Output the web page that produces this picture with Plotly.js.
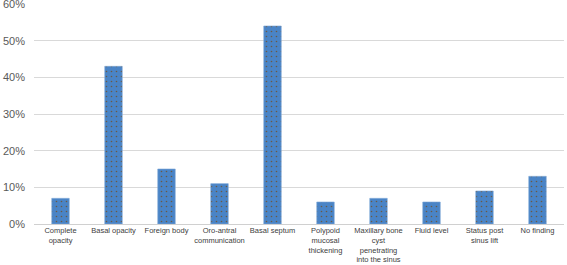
<!DOCTYPE html>
<html><head><meta charset="utf-8">
<script src="https://cdn.plot.ly/plotly-3.0.1.min.js"></script>
<style>html,body{margin:0;padding:0;background:#fff}#c{width:567px;height:265px}</style>
</head><body><div id="c"></div>
<script>
const categories = ["Complete<br>opacity","Basal opacity","Foreign body","Oro-antral<br>communication","Basal septum","Polypoid<br>mucosal<br>thickening","Maxillary bone<br>cyst<br>penetrating<br>into the sinus","Fluid level","Status post<br>sinus lift","No finding"];
const values = [0.07,0.43,0.15,0.11,0.54,0.06,0.07,0.06,0.09,0.13];
const yTicks = [0,0.1,0.2,0.3,0.4,0.5,0.6];
const yTickLabels = ["0%","10%","20%","30%","40%","50%","60%"];
Plotly.newPlot('c',[{
  type:'bar', x:categories, y:values,
  marker:{color:'#4a84c6', line:{width:0.6,color:'#7aa6d6'},
    pattern:{shape:'.', fgcolor:'#6a5a45', bgcolor:'#4a84c6', size:5, solidity:0.08}},
  hoverinfo:'none'
}],{
  width:567,height:265,
  margin:{l:34,r:3,t:4,b:41},
  bargap:0.67,
  paper_bgcolor:'#fff',plot_bgcolor:'#fff',
  showlegend:false,
  xaxis:{tickfont:{family:'Liberation Sans, Arial',size:7.5,color:'#404040'},
    showline:true,linecolor:'#d0d0d0',ticks:'',tickangle:0,automargin:false,ticklabelstandoff:-1},
  yaxis:{range:[0,0.6],tickvals:yTicks,ticktext:yTickLabels,ticklabeloverflow:'allow',ticklabelstandoff:8,
    tickfont:{family:'Liberation Sans, Arial',size:11,color:'#595959'},
    showgrid:true,gridcolor:'#d9d9d9',gridwidth:1,zeroline:false,showline:false,ticks:'',automargin:false}
},{staticPlot:true});
</script></body></html>
